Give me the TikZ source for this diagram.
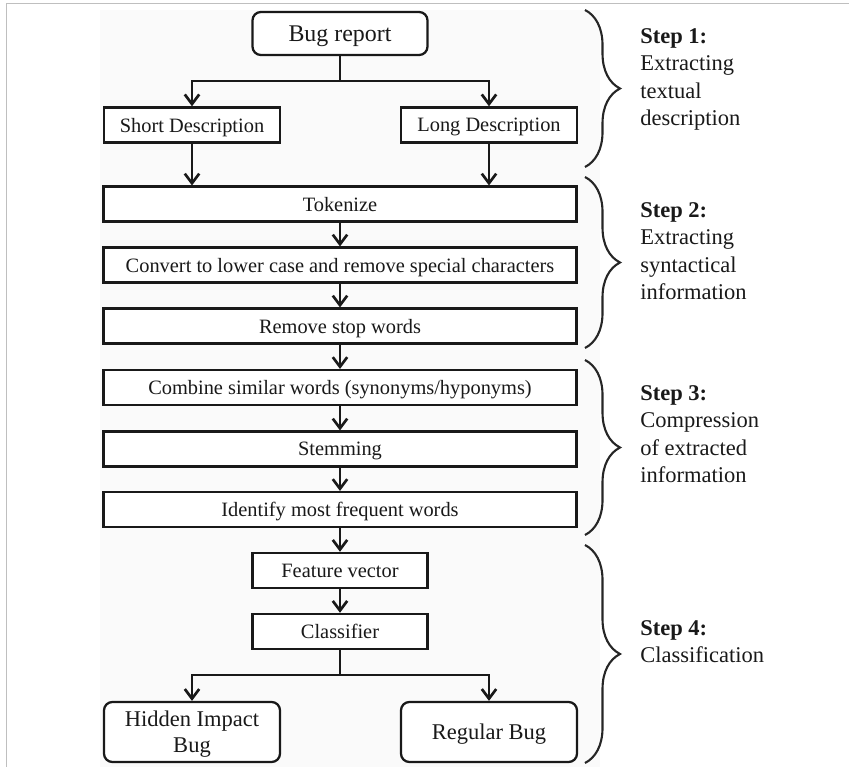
\documentclass[tikz,border=0pt]{standalone}
\usepackage{fontspec}
\setmainfont{Liberation Serif}
\usetikzlibrary{positioning, arrows.meta, decorations.pathreplacing}

\begin{document}
\begin{tikzpicture}[
    x=0.025cm, y=-0.025cm,
    >={Straight Barb[length=2.4mm, width=3.6mm]},
    % --- Styles ---
    box_step/.style={draw=black!90, line width=1.6pt, fill=white, minimum width=11.825cm, minimum height=0.87cm, inner sep=0pt, text depth=0pt, text=black!90, font=\fontsize{14.5}{17}\selectfont},
    box_small/.style={box_step, minimum width=4.4cm, minimum height=0.88cm},
    box_round/.style={box_small, rounded corners=6pt, align=center, minimum height=1.5cm, font=\fontsize{16}{18.4}\selectfont},
    arrow_black/.style={->, line width=1.9pt, color=black!90},
    brace_line/.style={decorate, decoration={brace, amplitude=0.875cm}, line width=1.5pt, color=black!85},
    step_text/.style={anchor=north west, align=left, inner sep=0pt, font=\fontsize{16}{19.5}\selectfont, color=black!90},
]

    \useasboundingbox (0,0) rectangle (849,767);

    % frame and paper
    \draw[black!25, line width=0.6pt] (849,3) -- (6,3) -- (6,767);
    \fill[black!2] (100,10) rectangle (600,767);

    % ==========================
    % 1. TEXTUAL DESCRIPTION
    % ==========================
    \node[box_small, rounded corners=6pt, minimum width=4.375cm, minimum height=1.075cm, font=\fontsize{17}{20}\selectfont] (bug) at (340, 33.5) {Bug report};
    \node[box_small] (short) at (192, 125) {Short Description};
    \node[box_small] (long) at (489, 125) {Long Description};

    \coordinate (split_top) at (340, 81);
    \draw[arrow_black] (bug) -- (split_top) -| (short.north);
    \draw[arrow_black] (split_top) -| (long.north);

    % ==========================
    % 2. SYNTACTICAL INFORMATION
    % ==========================
    \node[box_step] (tok) at (340, 204) {Tokenize};
    \node[box_step] (conv) at (340, 265) {Convert to lower case and remove special characters};
    \node[box_step] (stop) at (340, 326) {Remove stop words};

    \draw[arrow_black] (short) -- (short |- tok.north);
    \draw[arrow_black] (long) -- (long |- tok.north);
    \draw[arrow_black] (tok) -- (conv);
    \draw[arrow_black] (conv) -- (stop);

    % ==========================
    % 3. COMPRESSION
    % ==========================
    \node[box_step] (comb) at (340, 387.5) {Combine similar words (synonyms/hyponyms)};
    \node[box_step] (stem) at (340, 449) {Stemming};
    \node[box_step] (ident) at (340, 509.5) {Identify most frequent words};

    \draw[arrow_black] (stop) -- (comb);
    \draw[arrow_black] (comb) -- (stem);
    \draw[arrow_black] (stem) -- (ident);

    % ==========================
    % 4. CLASSIFICATION
    % ==========================
    \node[box_small, minimum width=4.375cm] (feat) at (340, 570.5) {Feature vector};
    \node[box_small, minimum width=4.375cm] (cls) at (340, 631.5) {Classifier};
    \node[box_round] (hidden) at (192, 732) {Hidden Impact\\Bug};
    \node[box_round] (regular) at (489, 732) {Regular Bug};

    \draw[arrow_black] (ident) -- (feat);
    \draw[arrow_black] (feat) -- (cls);

    \coordinate (split_bot) at (340, 675);
    \draw[arrow_black] (cls) -- (split_bot) -| (hidden.north);
    \draw[arrow_black] (split_bot) -| (regular.north);

    % ==========================
    % 5. STEP BRACES (Right)
    % ==========================
    \draw[brace_line] (585, 10) -- (585, 167);
    \draw[brace_line] (585, 177) -- (585, 348);
    \draw[brace_line] (585, 360) -- (585, 535);
    \draw[brace_line] (585, 545) -- (585, 763);

    \node[step_text] (step1) at (640, 28) {\textbf{Step 1:}\\Extracting\\textual\\description};
    \node[step_text] (step2) at (640, 202) {\textbf{Step 2:}\\Extracting\\syntactical\\information};
    \node[step_text] (step3) at (640, 385) {\textbf{Step 3:}\\Compression\\of extracted\\information};
    \node[step_text] (step4) at (640, 620) {\textbf{Step 4:}\\Classification};

\end{tikzpicture}
\end{document}
